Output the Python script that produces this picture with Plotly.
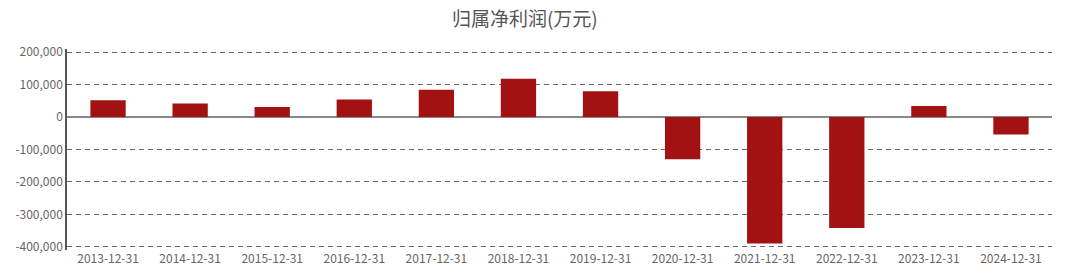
import plotly.graph_objects as go

categories = ["2013-12-31", "2014-12-31", "2015-12-31", "2016-12-31", "2017-12-31", "2018-12-31",
              "2019-12-31", "2020-12-31", "2021-12-31", "2022-12-31", "2023-12-31", "2024-12-31"]
net_profit = [52000, 42000, 31000, 54000, 84000, 118000, 80000, -130000, -390000, -342000, 34000, -54000]
y_ticks = [200000, 100000, 0, -100000, -200000, -300000, -400000]
y_tick_labels = ["200,000", "100,000", "0", "-100,000", "-200,000", "-300,000", "-400,000"]

fig = go.Figure()
fig.add_trace(go.Bar(
    x=categories, y=net_profit,
    marker=dict(color="#A31212", line=dict(width=0)),
    width=0.43,
))

fig.update_layout(
    width=1080, height=278,
    margin=dict(l=67, r=28, t=49, b=28),
    paper_bgcolor="white", plot_bgcolor="white",
    showlegend=False,
    title=dict(text="归属净利润(万元)", x=0.486, xanchor="center", y=0.93, yanchor="middle",
               font=dict(family="Noto Sans CJK SC", size=19, color="#555555")),
    font=dict(family="Noto Sans CJK SC, sans-serif", size=12, color="#666666"),
)
fig.update_xaxes(
    type="category", showgrid=False, showline=False, ticks="",
    tickfont=dict(size=12, color="#666666"),
)
fig.update_yaxes(
    range=[-410000, 210000], tickvals=y_ticks, ticktext=y_tick_labels,
    showgrid=True, gridcolor="#666666", griddash="5px,4px", gridwidth=1,
    zeroline=True, zerolinecolor="#888888", zerolinewidth=1.5,
    showline=True, linecolor="#555555", linewidth=1.5,
    ticks="", tickfont=dict(size=12, color="#666666"),
)

fig.write_html("out.html")
